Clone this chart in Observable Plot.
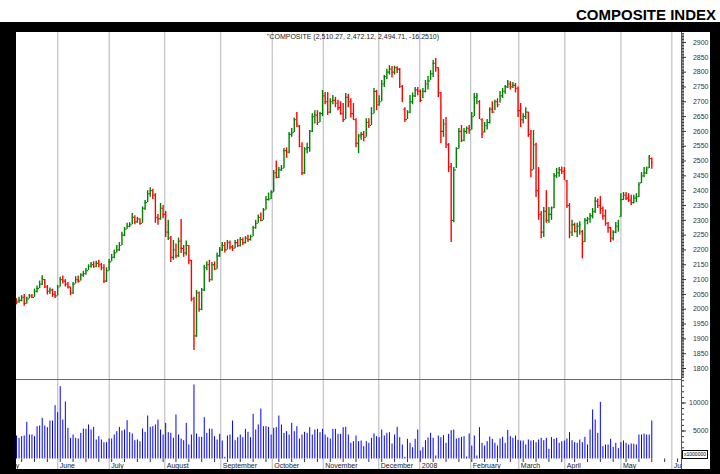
<!DOCTYPE html>
<html><head><meta charset="utf-8">
<script src="https://cdn.jsdelivr.net/npm/d3@7"></script>
<script src="https://cdn.jsdelivr.net/npm/@observablehq/plot@0.6"></script>
<style>
body{margin:0;background:#fff;}
#wrap{position:relative;width:720px;height:474px;overflow:hidden;font-family:"Liberation Sans",Arial,sans-serif;background:#fff;}
#title{position:absolute;right:4px;top:7px;line-height:15px;font-weight:bold;font-size:15px;color:#000;}
#frame{position:absolute;left:0;top:22px;width:720px;height:452px;background:#000;}
#price{position:absolute;left:16px;top:32px;}
#vol{position:absolute;left:16px;top:379px;}
#unit{position:absolute;left:682px;top:450px;width:24px;height:7px;border:1px solid #000;background:#fff;font-size:5px;line-height:7px;text-align:center;color:#000;}
</style></head><body>
<div id="wrap"><div id="title">COMPOSITE INDEX</div><div id="frame"></div><div id="price"></div><div id="vol"></div><div id="unit">x1000000</div></div>
<script>
const close = [
2025,2030,2040,2020,2035,2045,2040,2060,2070,2085,
2105,2075,2060,2065,2050,2045,2075,2100,2095,2085,
2075,2055,2085,2100,2095,2115,2120,2130,2145,2150,
2145,2155,2150,2140,2095,2130,2160,2175,2190,2200,
2215,2250,2270,2280,2285,2310,2295,2305,2290,2340,
2360,2390,2400,2385,2310,2305,2340,2320,2260,2285,
2175,2200,2180,2230,2205,2190,2215,2165,2035,1910,
2055,2000,2065,2140,2150,2100,2150,2135,2180,2200,
2215,2200,2225,2210,2205,2225,2215,2235,2225,2240,
2235,2245,2275,2290,2310,2300,2335,2370,2372,2395,
2460,2445,2470,2475,2535,2530,2590,2595,2640,2625,
2550,2460,2540,2545,2600,2650,2655,2630,2660,2720,
2700,2665,2700,2705,2695,2680,2660,2640,2715,2700,
2660,2650,2560,2585,2590,2580,2630,2620,2660,2735,
2690,2700,2760,2785,2800,2810,2800,2815,2810,2760,
2710,2640,2665,2700,2720,2740,2735,2705,2735,2760,
2770,2795,2830,2815,2730,2600,2625,2560,2480,2300,
2470,2530,2600,2570,2600,2610,2605,2650,2715,2720,
2660,2590,2620,2630,2675,2665,2700,2690,2720,2735,
2750,2760,2750,2755,2745,2670,2640,2650,2665,2590,
2470,2590,2400,2320,2260,2330,2300,2320,2335,2450,
2460,2470,2465,2445,2350,2260,2285,2262,2280,2285,
2220,2300,2305,2315,2330,2365,2350,2340,2315,2290,
2275,2240,2260,2280,2290,2370,2385,2375,2368,2360,
2375,2380,2420,2450,2460,2470,2510.961,2494.71];
const high = [
2035,2040,2046,2050,2040,2050,2050,2068,2078,2095,
2113,2100,2080,2072,2068,2060,2080,2108,2112,2100,
2090,2075,2090,2110,2112,2120,2128,2137,2150,2158,
2160,2162,2165,2155,2150,2140,2168,2185,2200,2215,
2225,2260,2276,2290,2292,2323,2315,2310,2305,2345,
2367,2400,2410,2405,2390,2320,2357,2350,2330,2300,
2245,2232,2220,2240,2303,2215,2230,2215,2165,2040,
2063,2058,2070,2148,2160,2165,2158,2160,2190,2208,
2225,2225,2232,2230,2215,2232,2235,2242,2240,2245,
2250,2250,2280,2300,2318,2325,2340,2380,2392,2400,
2468,2500,2478,2485,2542,2545,2596,2610,2645,2664,
2620,2562,2545,2560,2603,2660,2670,2670,2665,2738,
2731,2731,2710,2721,2715,2705,2700,2694,2728,2725,
2710,2694,2643,2590,2596,2600,2643,2643,2680,2745,
2738,2720,2772,2789,2810,2822,2819,2820,2818,2812,
2755,2680,2670,2721,2730,2748,2748,2740,2745,2772,
2785,2805,2839,2846,2815,2731,2640,2647,2559,2492,
2478,2545,2610,2620,2610,2615,2620,2664,2728,2728,
2704,2643,2630,2640,2680,2700,2705,2710,2735,2745,
2755,2772,2768,2765,2762,2750,2694,2660,2680,2665,
2603,2603,2560,2478,2330,2343,2400,2343,2345,2458,
2475,2478,2480,2478,2434,2357,2300,2290,2290,2295,
2266,2306,2310,2323,2340,2377,2372,2380,2345,2335,
2293,2276,2265,2293,2300,2390,2394,2394,2390,2385,
2385,2390,2427,2461,2478,2480,2519,2510.27];
const low = [
2015,2020,2025,2010,2018,2035,2036,2040,2055,2070,
2080,2070,2048,2050,2040,2036,2045,2075,2085,2075,
2068,2046,2050,2085,2088,2095,2108,2115,2130,2138,
2138,2140,2140,2130,2087,2090,2130,2160,2170,2190,
2195,2215,2245,2270,2275,2285,2285,2290,2283,2290,
2333,2360,2378,2370,2290,2283,2300,2305,2242,2232,
2158,2165,2170,2175,2188,2175,2180,2150,2025,1861,
1905,1990,1995,2060,2130,2090,2095,2130,2135,2175,
2195,2190,2200,2200,2195,2205,2208,2210,2215,2220,
2225,2230,2245,2270,2290,2295,2300,2335,2365,2370,
2395,2440,2441,2465,2475,2509,2525,2580,2596,2613,
2545,2451,2455,2525,2530,2596,2625,2620,2630,2650,
2690,2654,2660,2690,2680,2670,2655,2630,2640,2680,
2645,2637,2545,2525,2570,2565,2580,2610,2620,2660,
2670,2685,2700,2748,2775,2790,2780,2790,2795,2745,
2697,2630,2640,2660,2690,2714,2720,2697,2710,2730,
2740,2772,2782,2800,2714,2559,2580,2542,2461,2225,
2292,2475,2540,2562,2565,2590,2590,2605,2650,2690,
2640,2576,2595,2605,2625,2660,2670,2680,2695,2711,
2725,2745,2740,2745,2730,2647,2613,2625,2640,2580,
2444,2470,2377,2300,2238,2242,2290,2290,2300,2340,
2441,2445,2455,2434,2340,2238,2245,2258,2242,2250,
2170,2225,2285,2290,2305,2323,2340,2320,2300,2280,
2256,2225,2230,2255,2260,2310,2367,2367,2360,2350,
2355,2360,2377,2424,2444,2455,2475,2472.12];
const open = [
2030,2025,2030,2040,2020,2035,2045,2040,2060,2070,
2085,2100,2075,2060,2065,2050,2045,2075,2100,2095,
2085,2075,2055,2085,2100,2095,2115,2120,2130,2145,
2150,2145,2155,2150,2140,2095,2130,2160,2175,2190,
2200,2215,2250,2270,2280,2285,2310,2295,2305,2290,
2340,2360,2390,2400,2385,2310,2305,2340,2320,2260,
2240,2175,2200,2180,2230,2205,2190,2215,2165,2035,
1910,2055,2000,2065,2140,2150,2100,2150,2135,2180,
2200,2215,2200,2225,2210,2205,2225,2215,2235,2225,
2240,2235,2245,2275,2290,2310,2300,2335,2370,2372,
2395,2460,2445,2470,2475,2535,2530,2590,2597,2640,
2618,2550,2460,2540,2545,2600,2650,2655,2630,2660,
2720,2700,2665,2700,2705,2695,2680,2660,2640,2715,
2700,2660,2640,2560,2585,2590,2580,2630,2620,2660,
2735,2690,2700,2760,2785,2800,2810,2800,2815,2810,
2752,2675,2640,2665,2700,2720,2740,2735,2705,2735,
2760,2770,2795,2830,2815,2730,2600,2625,2555,2480,
2300,2470,2542,2600,2570,2600,2610,2605,2650,2715,
2700,2640,2598,2620,2630,2675,2665,2700,2690,2720,
2735,2750,2760,2750,2755,2745,2670,2640,2650,2665,
2590,2470,2555,2400,2320,2260,2330,2300,2320,2342,
2450,2460,2470,2465,2432,2350,2260,2285,2262,2280,
2262,2228,2300,2305,2315,2330,2365,2350,2340,2315,
2290,2275,2240,2260,2280,2312,2370,2385,2375,2368,
2360,2375,2380,2426,2450,2460,2477,2508];
const volume = [
4107,3690,3988,4107,6547,4285,4285,3988,5773,5893,
7261,5893,5595,6785,6785,9523,8273,12916,6964,10178,
5476,3690,4285,3690,3571,4583,5357,5297,6071,5178,
5654,3393,3988,3393,2916,2916,3571,3571,4285,4881,
5654,5000,5178,6845,4702,4464,3274,3393,3095,5357,
4762,7678,5654,5773,6071,6964,5178,4285,6369,4702,
4583,3690,7857,4285,3571,3274,6369,2500,4285,13213,
4464,3869,3869,7380,4583,5357,5297,3988,3393,4405,
3214,300,4107,4285,6785,3274,3809,4285,3809,5297,
4762,3809,7976,5178,6071,8928,5773,5773,5654,4285,
5476,5595,7678,6071,4583,4881,4285,6369,4881,5773,
3571,4285,4762,4583,5595,4285,5178,5297,4702,5297,
4285,3809,3571,5297,5297,4405,4405,5595,5654,4285,
2797,3095,4107,3095,3214,2202,3095,2797,3690,4464,
3988,3809,5178,4107,4583,4702,2678,4285,5654,3809,
2500,300,3512,2797,2024,3512,5178,1428,2024,3274,
3750,4583,3690,536,4107,3809,4166,2797,4405,5059,
5178,3571,3690,3869,3988,357,4464,2321,4107,536,
5595,2797,2321,3095,3928,3512,2797,2321,3571,3869,
2797,5119,3988,3690,4107,3333,3214,3214,2500,3393,
3214,3274,2916,3393,3690,3274,3690,1726,3809,3512,
3690,2797,3095,3214,3571,4702,3274,2916,2797,3393,
2916,3869,2500,5178,8749,6964,4583,10118,2202,2500,
2500,3512,2083,2797,1845,2916,3214,2797,2500,2678,
2619,2500,4285,4285,4464,4285,4285,6785];
// month boundaries, in bar-index units
const monthLabels = ["May","June","July","August","September","October","November","December","2008","February","March","April","May","Jun"];
const monthPos = [-4.86,16.06,36.04,57.66,79.43,99.42,119.25,140.86,156.8,176.6,195.3,213.2,235.0,254.8];
const priceTicks = d3.range(1800, 2901, 50);
const volTicks = [5000, 10000];

const bars = close.map((c, i) => ({i, o: open[i], h: high[i], l: low[i], c, up: c >= open[i]}));
const vols = volume.map((v, i) => ({i, v}));
const months = monthLabels.map((label, k) => ({label, pos: monthPos[k]}));
const n = close.length;
const f2 = d3.format(",.2f"), f4 = d3.format(".4f");
const hy = s => s.replace(/\u2212/g, "-");
const annot = hy(`"COMPOSITE (${f2(high[n-1])}, ${f2(low[n-1])}, ${f2(close[n-1])}, ${f4(close[n-1]-close[n-2])})`);

const xDom = [0, 258.55];
const font = "'Liberation Sans', Arial, sans-serif";
const green = "#008000", red = "#ff0000";

const price = Plot.plot({
  width: 694, height: 347, marginLeft: 0, marginRight: 29, marginTop: 0, marginBottom: 0,
  style: {background: "#fff", fontFamily: font},
  x: {domain: xDom, axis: null},
  y: {domain: [1762.88, 2933.74], label: null},
  color: {domain: [true, false], range: [green, red]},
  marks: [
    Plot.ruleX(months, {x: "pos", stroke: "#b4b4b4"}),
    Plot.ruleX(bars, {x: "i", y1: "l", y2: "h", stroke: "up", strokeWidth: 1.4}),
    Plot.ruleY(bars, {y: "o", x1: d => d.i - 0.45, x2: "i", stroke: "up", strokeWidth: 1.2}),
    Plot.ruleY(bars, {y: "c", x1: "i", x2: d => d.i + 0.45, stroke: "up", strokeWidth: 1.2}),
    Plot.ruleX([xDom[1]], {stroke: "#555"}),
    Plot.axisY({anchor: "right", label: null, ticks: d3.range(1770, 2935, 5), tickSize: 2, tickFormat: () => "", color: "#333"}),
    Plot.axisY({anchor: "right", label: null, ticks: priceTicks, tickSize: 4, tickPadding: 23, textAnchor: "end", tickFormat: "d", fontSize: 7, color: "#333"}),
    Plot.text([annot], {frameAnchor: "top", dy: 2, dx: 4, fontSize: 7, fill: "#222"})
  ]
});
document.getElementById("price").append(price);

const vol = Plot.plot({
  width: 694, height: 90, marginLeft: 0, marginRight: 29, marginTop: 0, marginBottom: 0,
  style: {background: "#fff", fontFamily: font},
  x: {domain: xDom, axis: null},
  y: {domain: [-1875, 14196], label: null},
  marks: [
    Plot.ruleX(months, {x: "pos", stroke: "#b4b4b4"}),
    Plot.ruleY([14196], {stroke: "#666"}),
    Plot.ruleX(vols, {x: "i", y1: 0, y2: "v", stroke: "#0000ff"}),
    Plot.tickX(d3.range(2, 258, 5), {x: d => d, insetTop: 79.5, insetBottom: 7, stroke: "#333"}),
    Plot.text(months, {x: "pos", text: "label", frameAnchor: "bottom", textAnchor: "start", dx: 2, dy: -2, fontSize: 7, fill: "#222", clip: true}),
    Plot.ruleX([xDom[1]], {stroke: "#555"}),
    Plot.axisY({anchor: "right", label: null, ticks: d3.range(1000, 14001, 1000), tickSize: 2, tickFormat: () => "", color: "#333"}),
    Plot.axisY({anchor: "right", label: null, ticks: volTicks, tickSize: 4, tickPadding: 23, textAnchor: "end", tickFormat: "d", fontSize: 7, color: "#333"})
  ]
});
document.getElementById("vol").append(vol);
</script>
</body></html>
